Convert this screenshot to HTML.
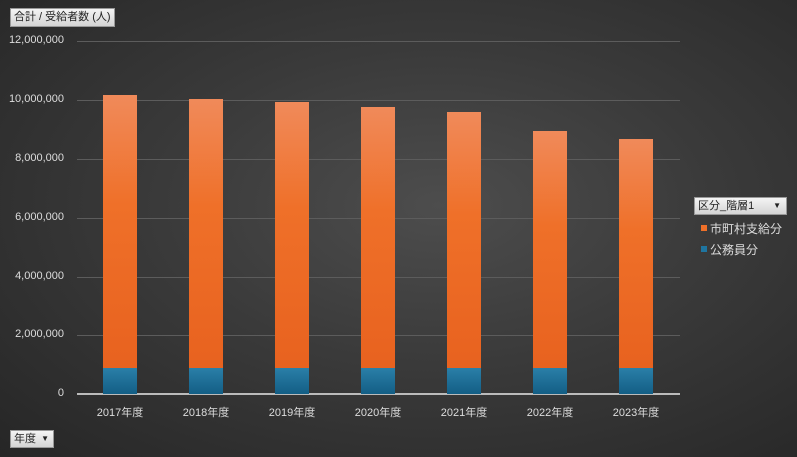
<!DOCTYPE html>
<html><head><meta charset="utf-8"><style>
body{margin:0;width:797px;height:457px;overflow:hidden;font-family:"Liberation Sans","Noto Sans CJK JP",sans-serif;}
#c{position:relative;width:797px;height:457px;background:radial-gradient(ellipse at 55% 45%,#4d4d4d 0%,#3a3a3a 45%,#262626 100%);}
.btn{position:absolute;background:linear-gradient(#f4f4f4,#d4d4d4);border:1px solid #999;color:#222;font-size:11px;line-height:16px;padding:0 3px;box-sizing:border-box;}
.yl{position:absolute;right:733px;color:#ddd;font-size:11px;text-align:right;}
.g{position:absolute;left:77px;width:603px;height:1px;background:#5c5c5c;}
.bar{position:absolute;width:34px;}
.o{background:linear-gradient(#f08a5a,#ef7029 40%,#e8621f);}
.b{background:linear-gradient(#2a7fa8,#135e85);top:368px;height:26px;}
.xl{position:absolute;top:404px;color:#ddd;font-size:11px;width:80px;text-align:center;}
</style></head><body><div id="c">
<div class="btn" style="left:10px;top:8px;width:105px;height:19px;">合計 / 受給者数 (人)</div>
<div class="g" style="top:41px"></div><div class="g" style="top:100px"></div><div class="g" style="top:159px"></div><div class="g" style="top:218px"></div><div class="g" style="top:277px"></div><div class="g" style="top:335px"></div>
<div class="g" style="top:393px;height:2px;background:#bbb"></div>
<div class="yl" style="top:34px;left:0;width:64px">12,000,000</div>
<div class="yl" style="top:93px;left:0;width:64px">10,000,000</div>
<div class="yl" style="top:152px;left:0;width:64px">8,000,000</div>
<div class="yl" style="top:211px;left:0;width:64px">6,000,000</div>
<div class="yl" style="top:270px;left:0;width:64px">4,000,000</div>
<div class="yl" style="top:328px;left:0;width:64px">2,000,000</div>
<div class="yl" style="top:387px;left:0;width:64px">0</div>

<div class="bar o" style="left:103px;top:95px;height:273px"></div><div class="bar b" style="left:103px"></div>
<div class="bar o" style="left:189px;top:99px;height:269px"></div><div class="bar b" style="left:189px"></div>
<div class="bar o" style="left:275px;top:102px;height:266px"></div><div class="bar b" style="left:275px"></div>
<div class="bar o" style="left:361px;top:107px;height:261px"></div><div class="bar b" style="left:361px"></div>
<div class="bar o" style="left:447px;top:112px;height:256px"></div><div class="bar b" style="left:447px"></div>
<div class="bar o" style="left:533px;top:131px;height:237px"></div><div class="bar b" style="left:533px"></div>
<div class="bar o" style="left:619px;top:139px;height:229px"></div><div class="bar b" style="left:619px"></div>

<div class="xl" style="left:80px">2017年度</div>
<div class="xl" style="left:166px">2018年度</div>
<div class="xl" style="left:252px">2019年度</div>
<div class="xl" style="left:338px">2020年度</div>
<div class="xl" style="left:424px">2021年度</div>
<div class="xl" style="left:510px">2022年度</div>
<div class="xl" style="left:596px">2023年度</div>

<div class="btn" style="left:694px;top:197px;width:93px;height:18px;">区分_階層1<span style="position:absolute;right:5px;font-size:8px">▼</span></div>
<div style="position:absolute;left:701px;top:225px;width:6px;height:6px;background:#ef7029"></div>
<div style="position:absolute;left:710px;top:220px;color:#ddd;font-size:12px">市町村支給分</div>
<div style="position:absolute;left:701px;top:246px;width:6px;height:6px;background:#1f75a0"></div>
<div style="position:absolute;left:710px;top:241px;color:#ddd;font-size:12px">公務員分</div>

<div class="btn" style="left:10px;top:430px;width:44px;height:18px;">年度<span style="position:absolute;right:4px;font-size:8px">▼</span></div>
</div></body></html>
